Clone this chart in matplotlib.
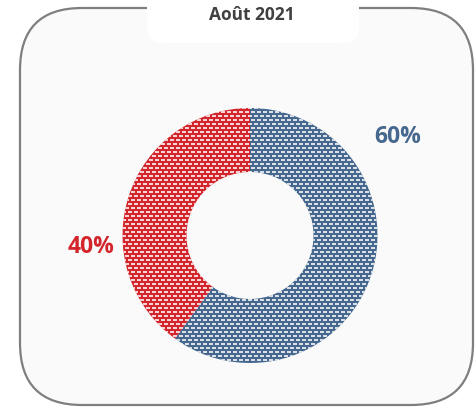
import numpy as np
import matplotlib
matplotlib.use("Agg")
import matplotlib.pyplot as plt
from matplotlib.patches import FancyBboxPatch

# data
title = "Août 2021"
labels = ["Oui", "Non"]
values = [60, 40]
colors = ["#46688f", "#d3262c"]

W, H = 475, 407
fig = plt.figure(figsize=(W / 100, H / 100), dpi=100)
ax = fig.add_axes([0, 0, 1, 1])
fig.patch.set_facecolor("white")

# outer rounded frame
frame = FancyBboxPatch((20, 2), 453, 397, boxstyle="round,pad=0,rounding_size=62",
                       facecolor="#fafafa", edgecolor="#7f7f7f", linewidth=1.6, zorder=1)
ax.add_patch(frame)

# white title tab on top of frame
tab = FancyBboxPatch((147, 364), 212, 70, boxstyle="round,pad=0,rounding_size=16",
                     facecolor="white", edgecolor="none", zorder=2)
ax.add_patch(tab)
ax.text(252, 392, title, ha="center", va="center", fontsize=12.5, fontweight="bold",
        family="Open Sans", color="#404040", zorder=3)

cx, cy = 250, 171.5
r_out, ring = 127.5, 64
wedges, _ = ax.pie(values, colors=colors, startangle=90, counterclock=False,
                   center=(cx, cy), radius=r_out,
                   wedgeprops=dict(width=ring, linewidth=0), frame=True)

# brick-like dashed texture (white dashes) clipped to each wedge
n = int(2 * r_out) + 2
yy, xx = np.mgrid[0:n, 0:n]
shift = ((yy // 4) % 2) * 3
mask = (((xx + shift) % 6) < 4) & ((yy % 4) < 2)
tex = np.zeros((n, n, 4))
tex[..., :3] = 1.0
tex[..., 3] = mask * 0.8
for w in wedges:
    w.set_zorder(3)
    im = ax.imshow(tex, extent=(cx - n / 2, cx + n / 2, cy - n / 2, cy + n / 2),
                   interpolation="nearest", zorder=4)
    im.set_clip_path(w)

ax.set_xlim(0, W)
ax.set_ylim(0, H)
ax.set_aspect("equal")
ax.axis("off")

# percentage labels
total = sum(values)
pos = [(398, 270), (91, 160)]
for v, c, (x, y) in zip(values, colors, pos):
    ax.text(x, y, f"{round(100 * v / total)}%", ha="center", va="center",
            fontsize=16.5, fontweight="bold", family="Open Sans", color=c, zorder=5)

fig.savefig("out.png", dpi=100, facecolor="white")
